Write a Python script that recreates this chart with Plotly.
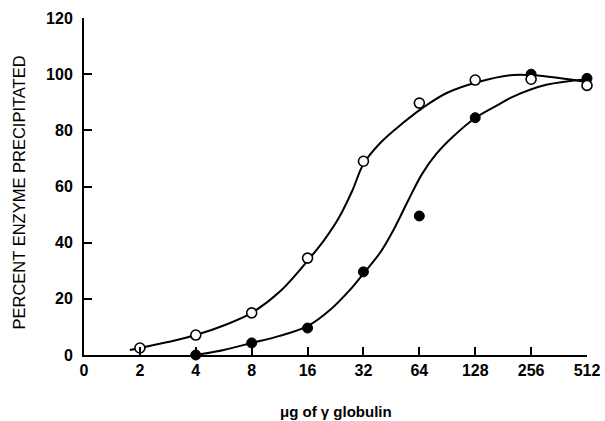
import plotly.graph_objects as go

# Categories (log2 spaced dose of gamma globulin, µg)
x_labels = ["0", "2", "4", "8", "16", "32", "64", "128", "256", "512"]
x_pos = list(range(len(x_labels)))

# Measured points (index into x_labels, percent precipitated)
open_x = [1, 2, 3, 4, 5, 6, 7, 8, 9]
open_y = [2.5, 7.1, 15, 34.5, 69, 89.7, 97.9, 98.2, 96]

filled_x = [2, 3, 4, 5, 6, 7, 8, 9]
filled_y = [0, 4.3, 9.6, 29.6, 49.5, 84.5, 100, 98.5]

# Hand-drawn smooth curves
open_curve_x = [0.82, 1.0, 1.5, 2.0, 2.5, 3.0, 3.5, 4.04, 4.3, 4.55, 4.8, 5.0, 5.3, 5.7, 6.06, 6.49, 7.07, 7.68, 8.05, 8.5, 9.05]
open_curve_y = [1.8, 2.5, 4.6, 7.1, 10.5, 15, 22.5, 34.5, 41, 48.5, 58.5, 68, 75.5, 82.5, 88, 93.3, 97.3, 99.7, 99.6, 98.6, 97.0]

filled_curve_x = [2.0, 2.5, 3.0, 3.5, 4.02, 4.4, 4.75, 5.0, 5.3, 5.55, 5.8, 6.05, 6.3, 6.6, 7.0, 7.4, 7.68, 8.27, 9.05]
filled_curve_y = [0, 1.8, 4.3, 6.8, 10.5, 16, 23, 29, 36.5, 45, 55, 64.5, 71.5, 77.7, 84.4, 89, 92, 96.2, 98.3]

y_ticks = [0, 20, 40, 60, 80, 100, 120]

fig = go.Figure()

line_style = dict(color="black", width=2, shape="spline", smoothing=1.0)
fig.add_trace(go.Scatter(x=open_curve_x, y=open_curve_y, mode="lines",
                         line=line_style, hoverinfo="skip", cliponaxis=False))
fig.add_trace(go.Scatter(x=filled_curve_x, y=filled_curve_y, mode="lines",
                         line=line_style, hoverinfo="skip", cliponaxis=False))

fig.add_trace(go.Scatter(x=filled_x, y=filled_y, mode="markers",
                         marker=dict(symbol="circle", size=10, color="black",
                                     line=dict(color="black", width=1)),
                         cliponaxis=False))
fig.add_trace(go.Scatter(x=open_x, y=open_y, mode="markers",
                         marker=dict(symbol="circle", size=10, color="white",
                                     line=dict(color="black", width=1.6)),
                         cliponaxis=False))

tick_font = dict(family="Liberation Sans", size=16, color="black", weight="bold")

fig.update_layout(
    width=605, height=421,
    margin=dict(l=84, r=18, t=18, b=66),
    paper_bgcolor="white", plot_bgcolor="white",
    showlegend=False,
    xaxis=dict(range=[0, 9], tickmode="array", tickvals=x_pos, ticktext=x_labels,
               showgrid=False, zeroline=False, showline=True, linecolor="black",
               linewidth=2, ticks="inside", ticklen=8, tickwidth=2, tickcolor="black",
               tickfont=tick_font, ticklabelstandoff=0, automargin=False),
    yaxis=dict(range=[0, 120], tickmode="array", tickvals=y_ticks,
               showgrid=False, zeroline=False, showline=True, linecolor="black",
               linewidth=2, ticks="inside", ticklen=8, tickwidth=2, tickcolor="black",
               tickfont=tick_font, ticklabelstandoff=6, automargin=False),
    annotations=[
        dict(text="μg of γ globulin", xref="paper", yref="paper", x=0.5, y=0,
             xanchor="center", yanchor="middle", yshift=-56, showarrow=False,
             font=dict(family="Liberation Sans", size=15, color="black", weight="bold")),
        dict(text="PERCENT ENZYME PRECIPITATED", xref="paper", yref="paper", x=0, y=0.5,
             xanchor="center", yanchor="middle", xshift=-66, yshift=-6, textangle=-90,
             showarrow=False,
             font=dict(family="Liberation Sans", size=16.5, color="black")),
    ],
)

# Remove the default page margin so the figure fills the 605x421 window exactly.
fig.write_html("out.html",
               config={"displayModeBar": False},
               post_script="document.body.style.margin='0';document.body.style.overflow='hidden';")
